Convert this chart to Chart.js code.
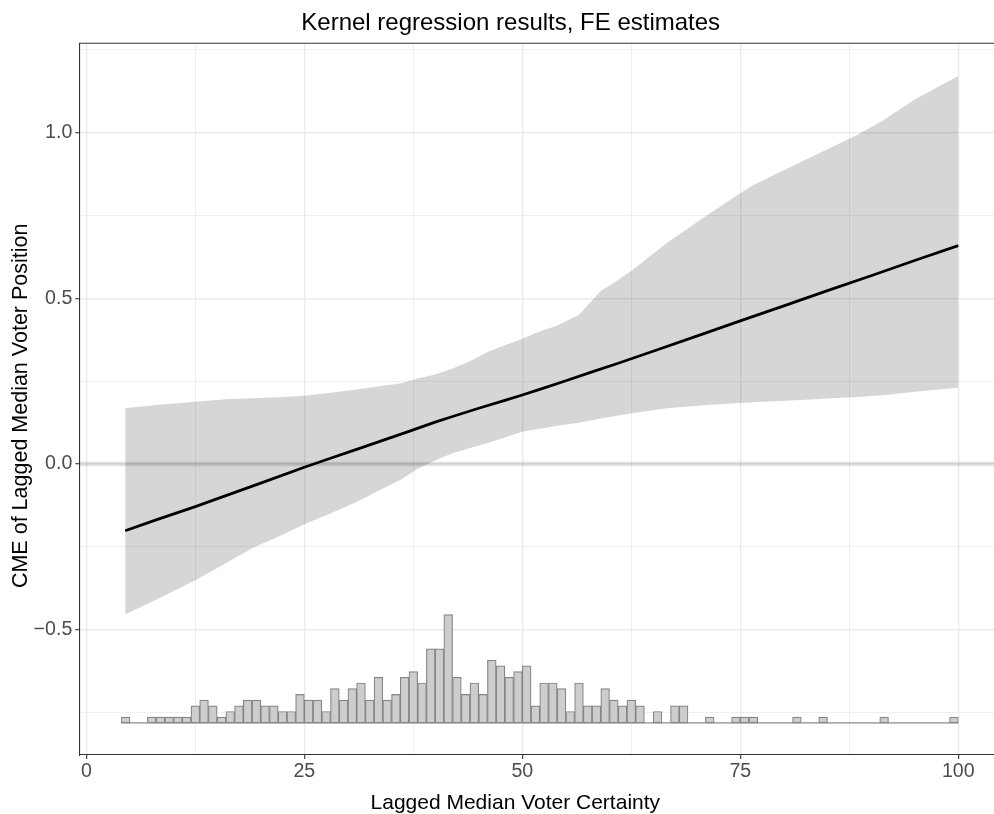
<!DOCTYPE html>
<html>
<head>
<meta charset="utf-8">
<script src="https://cdn.jsdelivr.net/npm/chart.js@4.4.0/dist/chart.umd.min.js"></script>
<style>
  html, body { margin: 0; padding: 0; background: #fff; overflow: hidden; }
</style>
</head>
<body>
<canvas id="graficoCME" width="994" height="814"></canvas>
<script>
// CME line (x = lagged certainty, y = marginal effect)
const cmeX = [4.45, 8, 12.5, 16, 20, 25, 28, 31, 34, 37, 40, 42, 45, 48, 50, 52, 55, 58, 61, 65, 70, 75, 80, 85, 90, 95, 100];
const cmeY = [-0.202, -0.169, -0.129, -0.096, -0.058, -0.010, 0.017, 0.044, 0.071, 0.098, 0.126, 0.143, 0.168, 0.192, 0.208, 0.225, 0.251, 0.278, 0.304, 0.340, 0.386, 0.432, 0.477, 0.523, 0.568, 0.614, 0.659];

// confidence band
const bandX    = [4.45, 8, 12.5, 16, 19, 22, 25, 28, 31, 34, 36, 38, 40, 42, 44, 46, 48, 50, 52, 54, 56.5, 59, 61, 62.6, 66.6, 71.2, 75, 76.5, 82, 88.4, 91.4, 95, 100];
const bandLow  = [-0.455, -0.41, -0.351, -0.30, -0.255, -0.22, -0.182, -0.15, -0.115, -0.074, -0.049, -0.015, 0.01, 0.032, 0.048, 0.063, 0.08, 0.097, 0.106, 0.115, 0.124, 0.137, 0.146, 0.153, 0.168, 0.178, 0.184, 0.186, 0.193, 0.202, 0.207, 0.218, 0.23];
const bandHigh = [0.168, 0.178, 0.188, 0.195, 0.198, 0.201, 0.206, 0.215, 0.225, 0.236, 0.243, 0.258, 0.270, 0.288, 0.31, 0.338, 0.358, 0.378, 0.40, 0.418, 0.45, 0.522, 0.555, 0.585, 0.668, 0.751, 0.817, 0.842, 0.912, 0.993, 1.038, 1.10, 1.171];

// histogram of the moderator (left bin edges, width 1)
const histBins = [4, 5, 6, 7, 8, 9, 10, 11, 12, 13, 14, 15, 16, 17, 18, 19, 20, 21, 22, 23, 24, 25, 26, 27, 28, 29, 30, 31, 32, 33, 34, 35, 36, 37, 38, 39, 40, 41, 42, 43, 44, 45, 46, 47, 48, 49, 50, 51, 52, 53, 54, 55, 56, 57, 58, 59, 60, 61, 62, 63, 64, 65, 66, 67, 68, 69, 70, 71, 72, 73, 74, 75, 76, 77, 78, 79, 80, 81, 82, 83, 84, 85, 86, 87, 88, 89, 90, 91, 92, 93, 94, 95, 96, 97, 98, 99];
const histCounts = [1, 0, 0, 1, 1, 1, 1, 1, 3, 4, 3, 1, 2, 3, 4, 4, 3, 3, 2, 2, 5, 4, 4, 2, 6, 4, 6, 7, 4, 8, 4, 5, 8, 9, 7, 13, 13, 19, 8, 5, 7, 5, 11, 10, 8, 9, 10, 3, 7, 7, 6, 2, 7, 3, 3, 6, 4, 3, 4, 3, 0, 2, 0, 3, 3, 0, 0, 1, 0, 0, 1, 1, 1, 0, 0, 0, 0, 1, 0, 0, 1, 0, 0, 0, 0, 0, 0, 1, 0, 0, 0, 0, 0, 0, 0, 1];
const histBase = -0.782;
const histUnit = 0.0172;

// axes
const xMajor = [0, 25, 50, 75, 100];
const xMinor = [12.5, 37.5, 62.5, 87.5];
const yMajor = [-0.5, 0, 0.5, 1.0];
const yMinor = [-0.75, -0.25, 0.25, 0.75, 1.25];
const xAxisMin = -0.81, xAxisMax = 104.1;
const yAxisMin = -0.879, yAxisMax = 1.270;

const FONT = "'Liberation Sans', Arial, Helvetica, sans-serif";

const histData = histBins.map((b, i) => ({
    x: b + 0.5,
    y: histCounts[i] > 0 ? [histBase, histBase + histCounts[i] * histUnit] : null
}));

const frameAndTitles = {
    id: 'frameAndTitles',
    afterDraw(chart) {
        const c = chart.ctx;
        const a = chart.chartArea;
        c.save();
        // top border of the panel
        c.strokeStyle = '#333333';
        c.lineWidth = 1.1;
        c.beginPath();
        c.moveTo(a.left, a.top);
        c.lineTo(a.right, a.top);
        c.stroke();

        c.fillStyle = '#000';
        c.textAlign = 'center';
        c.textBaseline = 'alphabetic';
        c.font = '24px ' + FONT;
        c.fillText('Kernel regression results, FE estimates', 510.7, 30);

        c.font = '21px ' + FONT;
        c.fillText('Lagged Median Voter Certainty', 515.3, 809);

        c.translate(27.3, 405.8);
        c.rotate(-Math.PI / 2);
        c.font = '21.5px ' + FONT;
        c.fillText('CME of Lagged Median Voter Position', 0, 0);
        c.restore();
    }
};

const isMajor = (list, v) => list.some(m => Math.abs(m - v) < 1e-9);

const ctx = document.getElementById('graficoCME').getContext('2d');
const chart = new Chart(ctx, {
    type: 'bar',
    data: {
        datasets: [
            {
                type: 'line',
                label: 'CME',
                data: cmeX.map((x, i) => ({ x: x, y: cmeY[i] })),
                borderColor: '#000000',
                borderWidth: 2.8,
                pointRadius: 0,
                tension: 0,
                order: 0
            },
            {
                type: 'bar',
                label: 'Histogram',
                data: histData,
                backgroundColor: '#cdcdcd',
                borderColor: '#858585',
                borderWidth: 1.2,
                borderSkipped: false,
                barPercentage: 1,
                categoryPercentage: 1,
                order: 1
            },
            {
                type: 'line',
                label: 'Histogram base',
                data: [{ x: histBins[0], y: histBase }, { x: histBins[histBins.length - 1] + 1, y: histBase }],
                borderColor: '#8c8c8c',
                borderWidth: 1.2,
                pointRadius: 0,
                order: 2
            },
            {
                type: 'line',
                label: 'Zero',
                data: [{ x: xAxisMin, y: 0 }, { x: xAxisMax, y: 0 }],
                borderColor: 'rgba(0,0,0,0.11)',
                borderWidth: 4.5,
                pointRadius: 0,
                order: 3
            },
            {
                type: 'line',
                label: 'CI lower',
                data: bandX.map((x, i) => ({ x: x, y: bandLow[i] })),
                borderWidth: 0,
                borderColor: 'rgba(0,0,0,0)',
                pointRadius: 0,
                fill: false,
                order: 5
            },
            {
                type: 'line',
                label: 'CI upper',
                data: bandX.map((x, i) => ({ x: x, y: bandHigh[i] })),
                borderWidth: 0,
                borderColor: 'rgba(0,0,0,0)',
                backgroundColor: 'rgba(0,0,0,0.16)',
                pointRadius: 0,
                fill: '-1',
                order: 4
            }
        ]
    },
    options: {
        responsive: false,
        animation: false,
        layout: { padding: { top: 43.3, right: 0, bottom: 0, left: 0 } },
        plugins: {
            legend: { display: false },
            tooltip: { enabled: false },
            title: { display: false }
        },
        scales: {
            x: {
                type: 'linear',
                min: xAxisMin,
                max: xAxisMax,
                offset: false,
                afterBuildTicks: (scale) => {
                    scale.ticks = xMajor.concat(xMinor).sort((p, q) => p - q).map(v => ({ value: v }));
                },
                afterFit: (scale) => { scale.height = 59; },
                grid: {
                    offset: false,
                    color: '#ebebeb',
                    lineWidth: (c) => isMajor(xMajor, c.tick.value) ? 1.4 : 0.8,
                    tickColor: (c) => isMajor(xMajor, c.tick.value) ? '#333333' : 'rgba(0,0,0,0)',
                    tickLength: 4,
                    tickWidth: 1.1
                },
                border: { color: '#333333', width: 1.1 },
                ticks: {
                    autoSkip: false,
                    maxRotation: 0,
                    padding: 1,
                    color: '#4d4d4d',
                    font: { family: FONT, size: 19.6 },
                    callback: (v) => isMajor(xMajor, v) ? String(v) : ''
                }
            },
            y: {
                type: 'linear',
                min: yAxisMin,
                max: yAxisMax,
                afterBuildTicks: (scale) => {
                    scale.ticks = yMajor.concat(yMinor).sort((p, q) => p - q).map(v => ({ value: v }));
                },
                afterFit: (scale) => { scale.width = 79.3; },
                grid: {
                    color: '#ebebeb',
                    lineWidth: (c) => isMajor(yMajor, c.tick.value) ? 1.4 : 0.8,
                    tickColor: (c) => isMajor(yMajor, c.tick.value) ? '#333333' : 'rgba(0,0,0,0)',
                    tickLength: 4,
                    tickWidth: 1.1
                },
                border: { color: '#333333', width: 1.1 },
                ticks: {
                    autoSkip: false,
                    padding: 3,
                    color: '#4d4d4d',
                    font: { family: FONT, size: 19.6 },
                    callback: (v) => isMajor(yMajor, v) ? v.toFixed(1).replace('-', '\u2212') : ''
                }
            }
        }
    },
    plugins: [frameAndTitles]
});
</script>
</body>
</html>
